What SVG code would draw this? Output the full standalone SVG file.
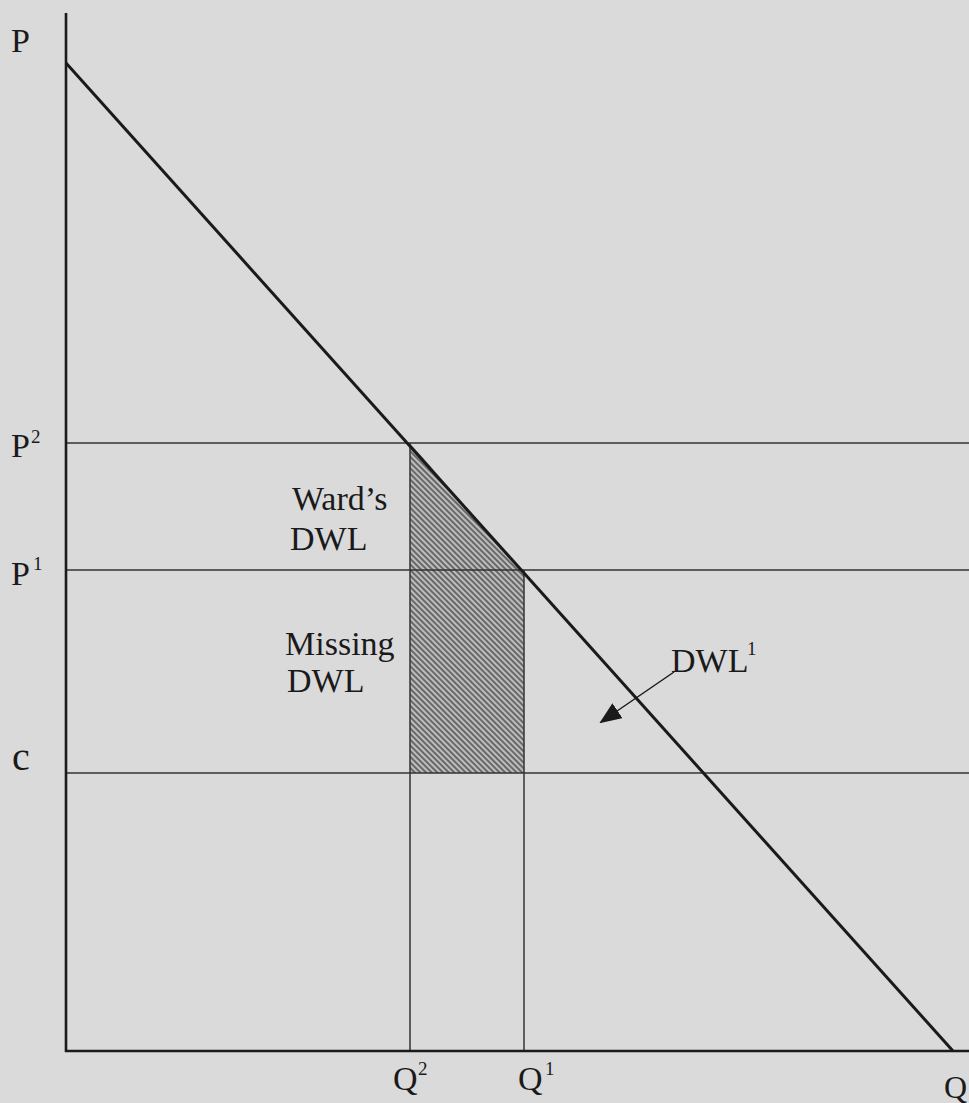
<svg xmlns="http://www.w3.org/2000/svg" width="969" height="1103" viewBox="0 0 969 1103">
<defs>
<style>
.t{font-family:"Liberation Serif","Times New Roman",serif;fill:#1a1a1a}
.ax{stroke:#1a1a1a;stroke-width:2.6;fill:none}
.ln{stroke:#333;stroke-width:1.5;fill:none}
.dm{stroke:#1a1a1a;stroke-width:3;fill:none}
</style>
<pattern id="hatch" width="4" height="4" patternUnits="userSpaceOnUse" patternTransform="rotate(45)">
<rect width="4" height="4" fill="#bdbdbd"/>
<line x1="0" y1="1" x2="4" y2="1" stroke="#3a3a3a" stroke-width="1.3"/>
</pattern>
<marker id="ah" markerWidth="22" markerHeight="18" refX="20" refY="9" orient="auto" markerUnits="userSpaceOnUse">
<path d="M0,0 L22,9 L0,18 z" fill="#1a1a1a"/>
</marker>
</defs>
<rect width="969" height="1103" fill="#dadada"/>
<g id="areas">
<path id="wards-dwl-area" d="M410,443 L410,570 L521,570 Z" fill="url(#hatch)"/>
<rect id="missing-dwl-area" x="410" y="570" width="114" height="203" fill="url(#hatch)"/>
</g>
<g id="connectors">
<line class="ln" x1="66" y1="443" x2="969" y2="443"/>
<line class="ln" x1="66" y1="570" x2="969" y2="570"/>
<line class="ln" x1="66" y1="773" x2="969" y2="773"/>
<line class="ln" x1="410" y1="443" x2="410" y2="1051"/>
<line class="ln" x1="524" y1="570" x2="524" y2="1051"/>
<line class="dm" x1="66" y1="63" x2="953" y2="1051"/>
<line class="ax" x1="66" y1="13" x2="66" y2="1052"/>
<line class="ax" x1="65" y1="1051" x2="969" y2="1051"/>
<line stroke="#1a1a1a" stroke-width="1.5" x1="674" y1="672" x2="601" y2="722" marker-end="url(#ah)"/>
</g>
<g id="axis-labels">
<text class="t" x="11" y="52" font-size="34">P</text>
<g id="p2"><text class="t" x="11" y="457" font-size="34">P</text><text class="t" x="31" y="443" font-size="19">2</text></g>
<g id="p1"><text class="t" x="11" y="585" font-size="34">P</text><text class="t" x="33" y="570" font-size="19">1</text></g>
<text class="t" x="12" y="770" font-size="40">c</text>
<g id="q2"><text class="t" x="393" y="1090" font-size="34">Q</text><text class="t" x="418" y="1075" font-size="19">2</text></g>
<g id="q1"><text class="t" x="518" y="1090" font-size="34">Q</text><text class="t" x="545" y="1075" font-size="19">1</text></g>
<text class="t" x="944" y="1098" font-size="32">Q</text>
</g>
<g id="wards-dwl">
<text class="t" x="292" y="510" font-size="34">Ward’s</text>
<text class="t" x="290" y="550" font-size="34">DWL</text>
</g>
<g id="missing-dwl">
<text class="t" x="285" y="655" font-size="34">Missing</text>
<text class="t" x="287" y="692" font-size="34">DWL</text>
</g>
<g id="dwl1">
<text class="t" x="671" y="672" font-size="34">DWL</text>
<text class="t" x="747" y="655" font-size="19">1</text>
</g>
</svg>
